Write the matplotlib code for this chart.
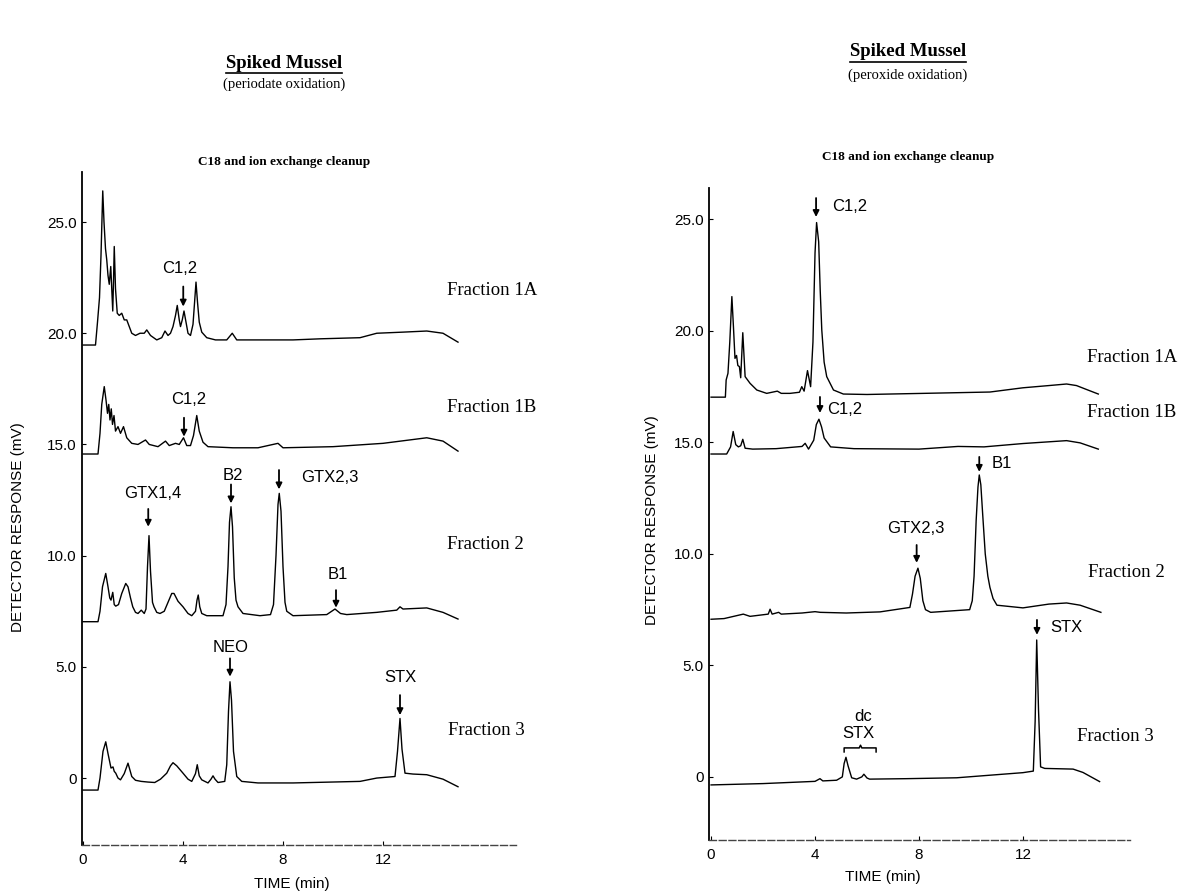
import matplotlib
matplotlib.use("Agg")
import matplotlib.pyplot as plt
from matplotlib.lines import Line2D

SANS = "Liberation Sans"
SERIF = "Liberation Serif"

# ---- left panel (periodate oxidation): retention time (min), response (mV)
l1a_t = [0.0, 0.5, 0.58, 0.66, 0.72, 0.79, 0.84, 0.9, 0.95, 1.0, 1.05, 1.11, 1.15, 1.19, 1.22, 1.25,
         1.3, 1.37, 1.45, 1.55, 1.65, 1.75, 1.85, 1.95, 2.1, 2.28, 2.45, 2.55, 2.7, 2.95, 3.15, 3.28,
         3.4, 3.5, 3.6, 3.7, 3.77, 3.85, 3.9, 3.97, 4.04, 4.12, 4.2, 4.3, 4.4, 4.47, 4.52, 4.58, 4.65,
         4.75, 4.95, 5.3, 5.75, 5.97, 6.15, 7.0, 8.4, 9.5, 11.08, 11.75, 12.8, 13.75, 14.4, 15.0]
l1a_v = [19.47, 19.47, 20.5, 21.6, 23.5, 26.4, 25.0, 23.8, 23.3, 22.6, 22.2, 23.0, 22.0, 21.0, 22.3, 23.9,
         22.0, 20.9, 20.8, 20.9, 20.6, 20.6, 20.3, 20.0, 19.9, 20.0, 20.0, 20.15, 19.9, 19.7, 19.8, 20.1,
         19.9, 20.0, 20.3, 20.8, 21.25, 20.6, 20.3, 20.6, 21.0, 20.5, 20.0, 19.9, 20.4, 21.5, 22.3, 21.4, 20.5,
         20.05, 19.8, 19.7, 19.7, 20.0, 19.7, 19.7, 19.7, 19.75, 19.8, 20.0, 20.05, 20.1, 20.0, 19.6]

l1b_t = [0.0, 0.6, 0.68, 0.75, 0.85, 0.92, 0.98, 1.03, 1.08, 1.13, 1.18, 1.24, 1.3, 1.4, 1.5, 1.62,
         1.75, 1.95, 2.2, 2.5, 2.65, 3.0, 3.3, 3.45, 3.7, 3.85, 4.02, 4.15, 4.3, 4.42, 4.55, 4.65, 4.8,
         5.0, 6.0, 7.0, 7.8, 8.0, 10.0, 12.0, 13.75, 14.4, 15.0]
l1b_v = [14.57, 14.57, 15.5, 16.8, 17.6, 17.0, 16.4, 16.8, 16.1, 16.6, 15.9, 16.3, 15.6, 15.8, 15.5, 15.8,
         15.3, 15.05, 15.0, 15.2, 15.0, 14.9, 15.15, 14.95, 15.05, 15.0, 15.3, 14.95, 14.95, 15.4, 16.3, 15.6, 15.1,
         14.9, 14.85, 14.85, 15.05, 14.85, 14.9, 15.05, 15.3, 15.15, 14.7]

l2_t = [0.0, 0.6, 0.68, 0.78, 0.91, 1.0, 1.07, 1.12, 1.19, 1.25, 1.31, 1.42, 1.55, 1.71, 1.8, 1.9,
        1.99, 2.1, 2.2, 2.33, 2.45, 2.52, 2.58, 2.64, 2.7, 2.78, 2.84, 2.95, 3.08, 3.25, 3.4, 3.55,
        3.64, 3.8, 4.0, 4.2, 4.35, 4.5, 4.56, 4.61, 4.67, 4.75, 4.95, 5.6, 5.72, 5.8, 5.86, 5.92,
        5.98, 6.05, 6.12, 6.2, 6.4, 7.08, 7.5, 7.62, 7.72, 7.8, 7.85, 7.92, 8.0, 8.08, 8.15, 8.4,
        9.75, 10.08, 10.3, 10.55, 11.75, 12.55, 12.68, 12.8, 13.75, 14.4, 15.0]
l2_v = [7.03, 7.03, 7.5, 8.6, 9.2, 8.6, 8.1, 8.0, 8.35, 7.8, 7.73, 7.8, 8.3, 8.75, 8.6, 8.1,
        7.7, 7.45, 7.4, 7.55, 7.4, 7.6, 9.5, 10.9, 9.3, 7.9, 7.7, 7.45, 7.4, 7.5, 7.9, 8.3,
        8.3, 7.95, 7.7, 7.4, 7.3, 7.5, 8.0, 8.23, 7.7, 7.4, 7.3, 7.3, 7.8, 9.5, 11.5, 12.2,
        11.3, 9.0, 8.0, 7.7, 7.4, 7.3, 7.35, 7.8, 10.0, 12.3, 12.8, 12.0, 9.5, 7.9, 7.5, 7.3,
        7.35, 7.6, 7.4, 7.35, 7.45, 7.55, 7.7, 7.6, 7.65, 7.45, 7.15]

l3_t = [0.0, 0.6, 0.68, 0.8, 0.91, 1.0, 1.12, 1.2, 1.25, 1.31, 1.4, 1.5, 1.65, 1.8, 1.88, 1.95,
        2.1, 2.33, 2.6, 2.87, 3.1, 3.35, 3.5, 3.6, 3.75, 4.0, 4.2, 4.35, 4.5, 4.57, 4.65, 4.75,
        5.0, 5.12, 5.2, 5.28, 5.4, 5.67, 5.75, 5.82, 5.88, 5.94, 6.02, 6.15, 6.35, 7.0, 8.4, 11.08,
        11.75, 12.48, 12.58, 12.68, 12.76, 12.88, 13.2, 13.75, 14.4, 15.0]
l3_v = [-0.54, -0.54, 0.0, 1.2, 1.63, 1.1, 0.45, 0.5, 0.3, 0.22, 0.0, -0.08, 0.2, 0.67, 0.35, 0.07,
        -0.1, -0.15, -0.18, -0.2, -0.05, 0.22, 0.55, 0.69, 0.55, 0.22, -0.05, -0.15, 0.2, 0.6, 0.1, -0.08,
        -0.22, -0.05, 0.1, -0.05, -0.2, -0.15, 0.6, 3.0, 4.33, 3.5, 1.2, 0.07, -0.15, -0.22, -0.22, -0.15,
        0.0, 0.07, 1.2, 2.68, 1.3, 0.22, 0.18, 0.15, -0.05, -0.39]

# ---- right panel (peroxide oxidation)
r1a_t = [0.0, 0.55, 0.58, 0.65, 0.72, 0.8, 0.86, 0.92, 0.98, 1.03, 1.09, 1.14, 1.22, 1.31, 1.5, 1.76,
         2.14, 2.55, 2.7, 3.04, 3.4, 3.49, 3.58, 3.71, 3.83, 3.92, 4.0, 4.06, 4.14, 4.2, 4.26, 4.35, 4.45,
         4.71, 5.09, 6.0, 8.17, 10.73, 12.0, 13.0, 13.68, 14.06, 14.5, 14.9]
r1a_v = [17.03, 17.03, 17.8, 18.1, 19.5, 21.54, 20.2, 18.77, 18.9, 18.45, 18.4, 17.9, 19.92, 17.95, 17.65, 17.35,
         17.2, 17.3, 17.2, 17.2, 17.25, 17.5, 17.3, 18.22, 17.5, 19.5, 23.5, 24.86, 24.0, 21.8, 20.04, 18.6, 17.95,
         17.35, 17.17, 17.15, 17.2, 17.26, 17.45, 17.55, 17.62, 17.55, 17.35, 17.17]

r1b_t = [0.0, 0.6, 0.75, 0.85, 0.95, 1.05, 1.14, 1.22, 1.31, 1.6, 2.5, 3.5, 3.62, 3.75, 3.95, 4.05, 4.15,
         4.25, 4.35, 4.6, 5.5, 8.0, 9.5, 10.5, 12.0, 13.68, 14.2, 14.9]
r1b_v = [14.48, 14.48, 14.8, 15.49, 14.9, 14.8, 14.85, 15.14, 14.74, 14.7, 14.72, 14.82, 14.96, 14.7, 15.1, 15.8, 16.04,
         15.7, 15.2, 14.8, 14.72, 14.7, 14.82, 14.8, 14.95, 15.08, 14.98, 14.7]

r2_t = [0.0, 0.5, 1.24, 1.5, 2.2, 2.27, 2.35, 2.6, 2.7, 3.5, 4.0, 4.2, 5.2, 6.5, 7.65, 7.75,
        7.85, 7.96, 8.05, 8.15, 8.25, 8.45, 9.95, 10.05, 10.12, 10.2, 10.27, 10.32, 10.38, 10.45,
        10.55, 10.65, 10.73, 10.85, 11.0, 12.0, 13.0, 13.68, 14.2, 15.0]
r2_v = [7.07, 7.1, 7.3, 7.2, 7.3, 7.52, 7.3, 7.38, 7.3, 7.35, 7.41, 7.38, 7.35, 7.4, 7.6, 8.2,
        9.0, 9.36, 8.9, 7.9, 7.5, 7.38, 7.5, 7.9, 9.0, 11.5, 13.0, 13.54, 13.1, 11.8,
        10.0, 9.0, 8.5, 8.0, 7.7, 7.58, 7.75, 7.8, 7.7, 7.38]

r3_t = [0.0, 2.0, 4.0, 4.19, 4.3, 4.83, 5.05, 5.12, 5.19, 5.27, 5.41, 5.6, 5.8, 5.88, 6.0, 6.1,
        7.5, 9.45, 11.0, 12.0, 12.4, 12.47, 12.53, 12.6, 12.68, 12.84, 13.93, 14.31, 14.95]
r3_v = [-0.36, -0.3, -0.2, -0.08, -0.18, -0.15, 0.0, 0.6, 0.88, 0.5, -0.04, -0.1, 0.0, 0.12, -0.05, -0.1,
        -0.08, -0.04, 0.1, 0.19, 0.26, 2.5, 6.14, 3.0, 0.45, 0.38, 0.35, 0.2, -0.21]

y_ticks = [0, 5, 10, 15, 20, 25]
y_tick_labels = ["0", "5.0", "10.0", "15.0", "20.0", "25.0"]
x_ticks = [0, 4, 8, 12]
x_tick_labels = ["0", "4", "8", "12"]

# peak annotations: (label, arrow time, arrow tail mV, arrow tip mV, text time, text mV, text ha)
left_peaks = [
    ("C1,2", 4.01, 22.1, 21.2, 3.88, 22.9, "center"),
    ("C1,2", 4.04, 16.2, 15.35, 4.21, 17.0, "center"),
    ("GTX1,4", 2.61, 12.1, 11.3, 2.78, 12.8, "center"),
    ("B2", 5.92, 13.2, 12.35, 6.01, 13.6, "center"),
    ("GTX2,3", 7.84, 13.85, 12.98, 8.71, 13.5, "left"),
    ("B1", 10.12, 8.45, 7.66, 10.21, 9.13, "center"),
    ("NEO", 5.88, 5.38, 4.56, 5.92, 5.85, "center"),
    ("STX", 12.68, 3.73, 2.83, 12.71, 4.5, "center"),
]
right_peaks = [
    ("C1,2", 4.04, 25.96, 25.11, 4.65, 25.56, "left"),
    ("C1,2", 4.19, 17.04, 16.32, 4.46, 16.46, "left"),
    ("GTX2,3", 7.91, 10.4, 9.6, 7.88, 11.12, "center"),
    ("B1", 10.32, 14.35, 13.68, 10.81, 14.04, "left"),
    ("STX", 12.54, 7.04, 6.37, 13.04, 6.68, "left"),
]
fraction_names = ["Fraction 1A", "Fraction 1B", "Fraction 2", "Fraction 3"]
left_frac_pos = [(14.56, 21.94), (14.56, 16.68), (14.56, 10.52), (14.6, 2.16)]
right_frac_pos = [(14.46, 18.83), (14.46, 16.32), (14.5, 9.15), (14.08, 1.79)]

W, H = 1192, 894
fig = plt.figure(figsize=(W / 100, H / 100), dpi=100)
fig.patch.set_facecolor("white")


def px_axes(x0, x1, y0, y1):
    return fig.add_axes([x0 / W, 1 - y1 / H, (x1 - x0) / W, (y1 - y0) / H])


def setup(ax, xlim, ylim):
    ax.set_xlim(*xlim)
    ax.set_ylim(*ylim)
    for s in ["top", "right"]:
        ax.spines[s].set_visible(False)
    ax.spines["left"].set_linewidth(1.3)
    ax.spines["bottom"].set_linewidth(1.0)
    ax.spines["bottom"].set_linestyle((0, (5, 2)))
    ax.spines["bottom"].set_color("#444444")
    ax.set_yticks(y_ticks)
    ax.set_yticklabels(y_tick_labels, fontfamily=SANS, fontsize=11)
    ax.set_xticks(x_ticks)
    ax.set_xticklabels(x_tick_labels, fontfamily=SANS, fontsize=11)
    ax.tick_params(axis="y", direction="in", length=3, width=0.8, pad=4)
    ax.tick_params(axis="x", direction="in", length=3, width=0.8, pad=6)
    ax.set_facecolor("none")


def draw_peaks(ax, peaks):
    for lab, at, tail, tip, tt, tv, ha in peaks:
        ax.annotate("", xy=(at, tip), xytext=(at, tail),
                    arrowprops=dict(arrowstyle="-|>", color="black", lw=1.3,
                                    mutation_scale=9, shrinkA=0, shrinkB=0))
        ax.text(tt, tv, lab, ha=ha, va="center", fontfamily=SANS, fontsize=12)


def draw_fractions(ax, pos):
    for name, (fx, fy) in zip(fraction_names, pos):
        ax.text(fx, fy, name, ha="left", va="center", fontfamily=SERIF,
                fontsize=13.5, clip_on=False)


# left panel
axl = px_axes(82, 515.5, 172, 845)
setup(axl, (-0.04, 17.3), (-3.01, 27.25))
for t, v in [(l1a_t, l1a_v), (l1b_t, l1b_v), (l2_t, l2_v), (l3_t, l3_v)]:
    axl.plot(t, v, color="black", lw=1.0)
draw_peaks(axl, left_peaks)
draw_fractions(axl, left_frac_pos)

# right panel
axr = px_axes(709, 1130, 188, 840)
setup(axr, (-0.08, 16.12), (-2.83, 26.41))
for t, v in [(r1a_t, r1a_v), (r1b_t, r1b_v), (r2_t, r2_v), (r3_t, r3_v)]:
    axr.plot(t, v, color="black", lw=1.0)
draw_peaks(axr, right_peaks)
draw_fractions(axr, right_frac_pos)

# dcSTX bracket label
axr.text(5.85, 2.69, "dc", ha="center", va="center", fontfamily=SANS, fontsize=12)
axr.text(5.65, 1.93, "STX", ha="center", va="center", fontfamily=SANS, fontsize=12)
axr.plot([5.12, 5.12, 5.7, 5.75, 5.8, 6.35, 6.35], [1.12, 1.3, 1.3, 1.42, 1.3, 1.3, 1.12],
         color="black", lw=1.1)


def fig_text(xp, yp, s, **kw):
    return fig.text(xp / W, 1 - yp / H, s, ha="center", va="center", **kw)


# axis labels
fig_text(18, 527, "DETECTOR RESPONSE (mV)", rotation=90, fontfamily=SANS, fontsize=11)
fig_text(652, 520, "DETECTOR RESPONSE (mV)", rotation=90, fontfamily=SANS, fontsize=11)
fig_text(292, 884, "TIME (min)", fontfamily=SANS, fontsize=11)
fig_text(883, 877, "TIME (min)", fontfamily=SANS, fontsize=11)

# titles
titles = [
    (284, 63, "Spiked Mussel", 84, "(periodate oxidation)", 162),
    (908, 52, "Spiked Mussel", 75, "(peroxide oxidation)", 157),
]
heads = []
for cx, ty, title, sy, sub, cy in titles:
    heads.append(fig_text(cx, ty, title, fontfamily=SERIF, fontsize=13.5, fontweight="bold"))
    fig_text(cx, sy, sub, fontfamily=SERIF, fontsize=10.5)
    fig_text(cx, cy, "C18 and ion exchange cleanup", fontfamily=SERIF, fontsize=9.5,
             fontweight="bold")

# underline the main titles
fig.canvas.draw()
rend = fig.canvas.get_renderer()
for h in heads:
    bb = h.get_window_extent(rend)
    yline = (bb.y0 - 1) / H
    fig.add_artist(Line2D([bb.x0 / W, bb.x1 / W], [yline, yline], color="black", lw=1.2))

fig.savefig("out.png", dpi=100, facecolor="white")
